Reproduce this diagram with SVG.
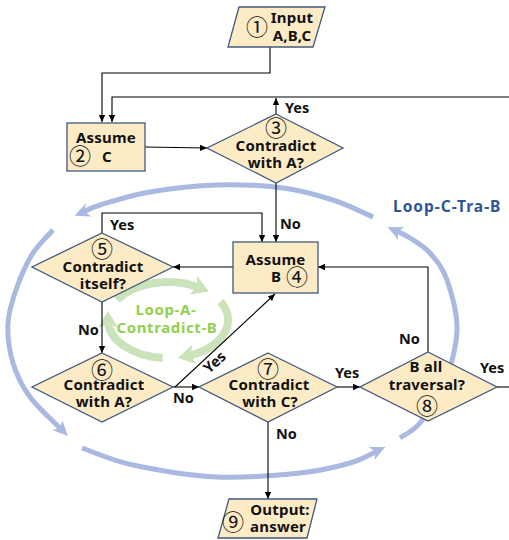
<svg xmlns="http://www.w3.org/2000/svg" width="509" height="540" viewBox="0 0 509 540">
<style>
.node{fill:#fdebc6;stroke:#41597f;stroke-width:1.3}
.t{font-family:"Noto Sans","Liberation Sans",sans-serif;font-weight:bold;font-size:15px;letter-spacing:0.2px;fill:#111;text-anchor:middle}
.lbl{font-family:"Noto Sans","Liberation Sans",sans-serif;font-weight:bold;font-size:14.5px;fill:#111}
.num{font-family:"Noto Sans CJK SC","Noto Sans",sans-serif;font-size:22px;fill:#111;text-anchor:middle}
.cn{fill:none;stroke:#000;stroke-width:1.1;marker-end:url(#ah)}
.cn0{fill:none;stroke:#000;stroke-width:1.1}
.blue{fill:none;stroke:#aab9e1;stroke-width:5;marker-end:url(#bh)}
.green{fill:none;stroke:#cbe3bb;stroke-width:8;marker-end:url(#gh)}
.gt{font-family:"Noto Sans","Liberation Sans",sans-serif;font-weight:bold;font-size:15px;letter-spacing:0.6px;fill:#92d050;text-anchor:middle}
</style>
<defs>
<marker id="ah" markerUnits="userSpaceOnUse" orient="auto" overflow="visible" markerWidth="1" markerHeight="1"><path d="M-7,-3.2 L0,0 L-7,3.2 z" fill="#000"/></marker>
<marker id="bh" markerUnits="userSpaceOnUse" orient="auto" overflow="visible" markerWidth="1" markerHeight="1"><path d="M7,0 L-8,-7 L-4,0 L-8,7 z" fill="#aab9e1"/></marker>
<marker id="gh" markerUnits="userSpaceOnUse" orient="auto" overflow="visible" markerWidth="1" markerHeight="1"><path d="M10,0 L-7,-10 L-3,0 L-7,10 z" fill="#cbe3bb"/></marker>
</defs>
<rect width="509" height="540" fill="#fff"/>

<g id="loop-c-tra-b">
<path class="blue" d="M373,217 C366.3,214.2 348,204.8 333,200 C318,195.2 302.3,190.5 283,188 C263.7,185.5 239.2,184.3 217,185 C194.8,185.7 169.5,188.7 150,192 C130.5,195.3 111.5,201.5 100,205 C88.5,208.5 84.2,211.7 81,213"/>
<path class="blue" d="M53,230 C49.7,233.8 39,243.5 33,253 C27,262.5 21.2,275.3 17,287 C12.8,298.7 8.7,310.3 8,323 C7.3,335.7 9.3,350.7 13,363 C16.7,375.3 21.7,385.7 30,397 C38.3,408.3 57.5,425.3 63,431"/>
<path class="blue" d="M82,448 C90.5,450.8 110.5,460.2 133,465 C155.5,469.8 189.2,475.7 217,477 C244.8,478.3 277.8,475.3 300,473 C322.2,470.7 336.8,466.8 350,463 C363.2,459.2 374.2,452.2 379,450"/>
<path class="blue" d="M400,438 C403.3,435.5 412.8,431.5 420,423 C427.2,414.5 436.8,402.5 443,387 C449.2,371.5 456.3,347.8 457,330 C457.7,312.2 451.5,292.8 447,280 C442.5,267.2 436.2,260 430,253 C423.8,246 416,241.8 410,238 C404,234.2 396.7,231.3 394,230"/>
<text x="393" y="212" style="font-family:'Noto Sans','Liberation Sans',sans-serif;font-weight:bold;font-size:15.5px;letter-spacing:1px;fill:#2f5597">Loop-C-Tra-B</text>
</g>

<g id="loop-a-contradict-b">
<path class="green" d="M117.1,299.9 A60,38 0 0 1 199.8,287.8"/>
<path class="green" d="M220.5,301.6 A60,38 0 0 1 187.6,355.9"/>
<path class="green" d="M162.8,357.9 A60,38 0 0 1 108,320.7"/>
<text class="gt" x="166" y="315">Loop-A-</text>
<text class="gt" x="167" y="333">Contradict-B</text>
</g>

<g id="connectors">
<path class="cn" d="M270,47 V73 H102 V122"/>
<path class="cn" d="M509,97 H112 V122"/>
<path class="cn" d="M276,114 V98"/>
<path class="cn" d="M145,147 L207,148"/>
<path class="cn" d="M276,183 V242"/>
<path class="cn" d="M102,233 V213 H262 V242"/>
<path class="cn" d="M233,267 H173"/>
<path class="cn" d="M102,302 V353"/>
<path class="cn" d="M173,387 H199"/>
<path class="cn" d="M175,387 L275,294"/>
<path class="cn" d="M337,387 H360"/>
<path class="cn" d="M428,352 V267 H318"/>
<path class="cn0" d="M497,387 H509"/>
<path class="cn" d="M268,422 V499"/>
<text class="lbl" x="285" y="113">Yes</text>
<text class="lbl" x="280" y="229">No</text>
<text class="lbl" x="110" y="230">Yes</text>
<text class="lbl" x="78" y="335">No</text>
<text class="lbl" transform="translate(218,366) rotate(-42)" text-anchor="middle">Yes</text>
<text class="lbl" x="173" y="403">No</text>
<text class="lbl" x="335" y="378">Yes</text>
<text class="lbl" x="399" y="344">No</text>
<text class="lbl" x="480" y="373">Yes</text>
<text class="lbl" x="276" y="439">No</text>
</g>

<g id="n1">
<polygon class="node" points="239,7 325,7 313,47 228,47"/>
<text class="num" x="257" y="35">①</text>
<text class="t" x="292" y="23">Input</text>
<text class="t" x="292" y="41">A,B,C</text>
</g>
<g id="n2">
<rect class="node" x="67" y="123" width="78" height="48"/>
<text class="num" x="80" y="164">②</text>
<text class="t" x="106" y="143">Assume</text>
<text class="t" x="107" y="162">C</text>
</g>
<g id="n3">
<polygon class="node" points="276,114 343,148 276,183 207,148"/>
<text class="num" x="276" y="136">③</text>
<text class="t" x="276" y="151">Contradict</text>
<text class="t" x="276" y="168">with A?</text>
</g>
<g id="n4">
<rect class="node" x="233" y="242" width="85" height="51"/>
<text class="t" x="275.5" y="265">Assume</text>
<text class="t" x="276" y="282">B</text>
<text class="num" x="297" y="285">④</text>
</g>
<g id="n5">
<polygon class="node" points="102,233 173,267 102,302 32,267"/>
<text class="num" x="102" y="257">⑤</text>
<text class="t" x="103" y="272">Contradict</text>
<text class="t" x="103" y="289">itself?</text>
</g>
<g id="n6">
<polygon class="node" points="102,353 173,387 102,422 32,387"/>
<text class="num" x="102" y="378">⑥</text>
<text class="t" x="104" y="390">Contradict</text>
<text class="t" x="104" y="407">with A?</text>
</g>
<g id="n7">
<polygon class="node" points="268,353 337,387 268,422 199,387"/>
<text class="num" x="268" y="377">⑦</text>
<text class="t" x="269" y="390">Contradict</text>
<text class="t" x="270" y="407">with C?</text>
</g>
<g id="n8">
<polygon class="node" points="428,352 497,387 428,421 360,387"/>
<text class="t" x="426" y="372">B all</text>
<text class="t" x="427" y="390">traversal?</text>
<text class="num" x="427" y="414">⑧</text>
</g>
<g id="n9">
<polygon class="node" points="229,499 317,499 307,538 218,538"/>
<text class="num" x="233" y="530">⑨</text>
<text class="t" x="280" y="515">Output:</text>
<text class="t" x="278" y="532">answer</text>
</g>
</svg>
